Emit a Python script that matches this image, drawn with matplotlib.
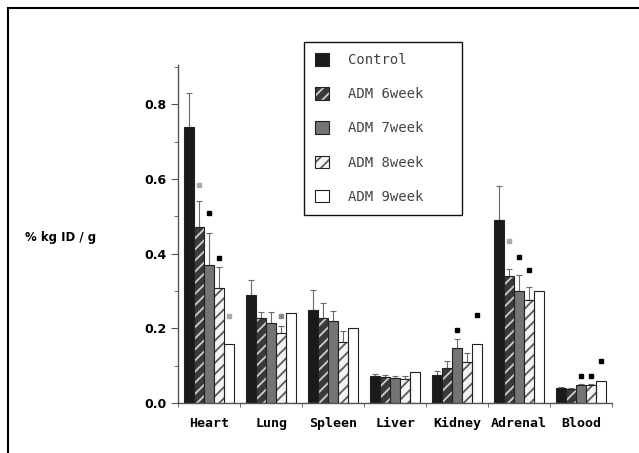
import matplotlib
matplotlib.use("Agg")
import matplotlib.pyplot as plt
from matplotlib.patches import Patch
from matplotlib.lines import Line2D
from matplotlib.ticker import MultipleLocator
import numpy as np

plt.rcParams['hatch.linewidth'] = 1.3

organs = ['Heart', 'Lung', 'Spleen', 'Liver', 'Kidney', 'Adrenal', 'Blood']
series_names = ['Control', 'ADM 6week', 'ADM 7week', 'ADM 8week', 'ADM 9week']

control = [0.74, 0.288, 0.249, 0.072, 0.075, 0.49, 0.039]
control_err = [0.09, 0.040, 0.053, 0.005, 0.011, 0.09, 0.003]
wk6 = [0.47, 0.227, 0.227, 0.070, 0.095, 0.34, 0.037]
wk6_err = [0.07, 0.016, 0.042, 0.004, 0.018, 0.02, 0.003]
wk7 = [0.37, 0.213, 0.220, 0.068, 0.146, 0.30, 0.048]
wk7_err = [0.085, 0.030, 0.026, 0.004, 0.026, 0.044, 0.004]
wk8 = [0.307, 0.187, 0.162, 0.064, 0.110, 0.275, 0.048]
wk8_err = [0.056, 0.018, 0.031, 0.008, 0.025, 0.035, 0.004]
wk9 = [0.157, 0.240, 0.202, 0.083, 0.159, 0.30, 0.060]
wk9_err = [0, 0, 0, 0, 0, 0, 0]

# significance dots: organ index, series index, height, shade
sig_group = [0, 0, 0, 0, 1, 4, 4, 5, 5, 5, 6, 6, 6]
sig_series = [1, 2, 3, 4, 3, 2, 4, 1, 2, 3, 2, 3, 4]
sig_y = [0.584, 0.509, 0.389, 0.232, 0.232, 0.195, 0.235, 0.433, 0.392, 0.355, 0.072, 0.072, 0.112]
sig_color = ['#aaaaaa', 'k', 'k', '#aaaaaa', '#888888', 'k', 'k', '#aaaaaa', 'k', 'k', 'k', 'k', 'k']

values = [control, wk6, wk7, wk8, wk9]
errors = [control_err, wk6_err, wk7_err, wk8_err, wk9_err]
# face, hatch, hatch colour
styles = [('#1a1a1a', None, None),
          ('#3a3a3a', '///', '#cfcfcf'),
          ('#747474', None, None),
          ('#f4f4f4', '///', '#5a5a5a'),
          ('white', None, None)]

fig = plt.figure(figsize=(6.39, 4.53), dpi=100)
ax = fig.add_axes([0.2786, 0.1104, 0.6792, 0.7461])

x = np.arange(len(organs))
w = 0.161
for i, (vals, errs) in enumerate(zip(values, errors)):
    face, hatch, hcol = styles[i]
    pos = x + (i - 2) * w
    if hatch:
        ax.bar(pos, vals, w, color=face, hatch=hatch, edgecolor=hcol, linewidth=0, zorder=2)
        ax.bar(pos, vals, w, fill=False, edgecolor='#222222', linewidth=0.8, zorder=3)
    else:
        ax.bar(pos, vals, w, color=face, edgecolor='#222222', linewidth=0.8, zorder=2)
    errs = np.array(errs)
    if errs.any():
        ax.errorbar(pos, vals, yerr=[np.zeros_like(errs), errs], fmt='none',
                    ecolor='#6a6a6a', elinewidth=0.8, capsize=2, capthick=0.8, zorder=1)

for g, s, y, c in zip(sig_group, sig_series, sig_y, sig_color):
    ax.plot(x[g] + (s - 2) * w, y, 's', ms=3.2, color=c, zorder=4)

ax.set_xlim(-0.5, 6.5)
ax.set_ylim(0, 0.905)
ax.spines['top'].set_visible(False)
ax.spines['right'].set_visible(False)
for sp in ['left', 'bottom']:
    ax.spines[sp].set_color('#555555')
    ax.spines[sp].set_linewidth(1.0)

ax.yaxis.set_major_locator(MultipleLocator(0.2))
ax.yaxis.set_minor_locator(MultipleLocator(0.1))
ax.set_yticks([0, 0.2, 0.4, 0.6, 0.8])
ax.set_yticklabels(['0.0', '0.2', '0.4', '0.6', '0.8'], fontsize=9, fontweight='bold')
ax.tick_params(axis='y', which='major', length=5, color='#555555', pad=3)
ax.tick_params(axis='y', which='minor', length=3, color='#555555')

ax.set_xticks(x)
ax.set_xticklabels(organs, family='DejaVu Sans Mono', fontsize=9.5, fontweight='bold')
ax.set_xticks(np.arange(-0.5, 7, 1), minor=True)
ax.tick_params(axis='x', which='major', length=0, pad=10)
ax.tick_params(axis='x', which='minor', length=3, color='#555555')

fig.text(25 / 639, 1 - 238 / 453, '% kg ID / g', fontsize=8.5, fontweight='bold', va='center')

handles = []
for face, hatch, hcol in styles:
    if hatch:
        handles.append((Patch(facecolor=face, hatch=hatch, edgecolor=hcol, linewidth=0),
                        Patch(fill=False, edgecolor='#222222', linewidth=0.8)))
    else:
        handles.append(Patch(facecolor=face, edgecolor='#222222', linewidth=0.8))
leg = fig.legend(handles, series_names, loc='upper left',
                 bbox_to_anchor=(304 / 639, 1 - 42 / 453, 158 / 639, 0.0), mode='expand',
                 prop={'family': 'DejaVu Sans Mono', 'size': 10}, labelcolor='#444444',
                 frameon=True, fancybox=False, edgecolor='#111111', framealpha=1,
                 handlelength=1.0, handleheight=1.0, labelspacing=1.45,
                 handletextpad=1.4, borderpad=0.8, borderaxespad=0)
leg.get_frame().set_linewidth(1.0)

# scanned page frame
fig.add_artist(Line2D([8 / 639, 1], [1 - 8 / 453, 1 - 8 / 453], color='k', lw=1.5))
fig.add_artist(Line2D([8 / 639, 8 / 639], [0, 1 - 8 / 453], color='k', lw=1.5))

fig.savefig('out.png', dpi=100)
